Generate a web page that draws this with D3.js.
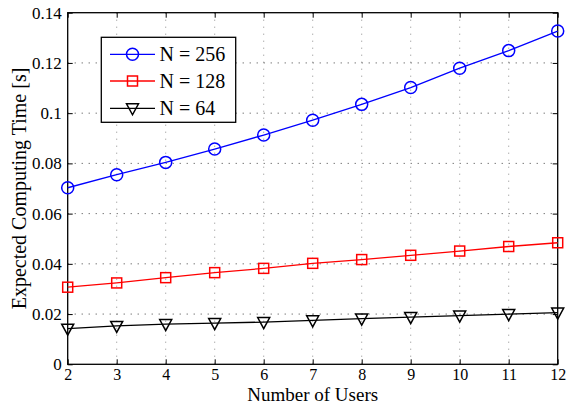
<!DOCTYPE html>
<html>
<head>
<meta charset="utf-8">
<script src="https://cdn.jsdelivr.net/npm/d3@7"></script>
<style>
  html, body { margin: 0; padding: 0; background: #fff; }
  svg { display: block; font-family: "Liberation Serif", "DejaVu Serif", serif; }
  svg text { font-family: "Liberation Serif", "DejaVu Serif", serif; }
</style>
</head>
<body>
<svg id="chart" width="569" height="405"></svg>
<script>
// Number of users on the x axis
const users = [2, 3, 4, 5, 6, 7, 8, 9, 10, 11, 12];
// Expected computing time [s] for each block size N
const timeN256 = [0.0703, 0.0755, 0.0804, 0.0857, 0.0913, 0.0972, 0.1035, 0.1102, 0.1179, 0.1249, 0.1327];
const timeN128 = [0.0307, 0.0324, 0.0345, 0.0365, 0.0382, 0.0402, 0.0417, 0.0434, 0.0451, 0.0469, 0.0484];
const timeN64  = [0.0142, 0.0153, 0.0160, 0.0164, 0.0168, 0.0175, 0.0182, 0.0188, 0.0194, 0.0200, 0.0206];
const seriesLabels = ["N = 256", "N = 128", "N = 64"];
const xTicks = [2, 3, 4, 5, 6, 7, 8, 9, 10, 11, 12];
const yTicks = [0, 0.02, 0.04, 0.06, 0.08, 0.1, 0.12, 0.14];

const series = [
  { label: seriesLabels[0], values: timeN256, color: "#0000ff", marker: "circle" },
  { label: seriesLabels[1], values: timeN128, color: "#ff0000", marker: "square" },
  { label: seriesLabels[2], values: timeN64,  color: "#000000", marker: "triangle" }
];

const svg = d3.select("#chart");
const L = 67.7, R = 557.7, T = 12.7, B = 364.3;
const serif = "'Liberation Serif', 'DejaVu Serif', serif";

const x = d3.scaleLinear().domain([2, 12]).range([L, R]);
const y = d3.scaleLinear().domain([0, 0.14]).range([B, T]);

// dotted grid
const grid = svg.append("g");
grid.selectAll("line.gx").data(xTicks.slice(1, -1)).join("line")
  .attr("x1", d => x(d)).attr("x2", d => x(d)).attr("y1", T).attr("y2", B)
  .attr("stroke", "#000").attr("stroke-opacity", 0.45).attr("stroke-width", 1)
  .attr("stroke-dasharray", "1,6");
grid.selectAll("line.gy").data(yTicks.slice(1, -1)).join("line")
  .attr("y1", d => y(d)).attr("y2", d => y(d)).attr("x1", L).attr("x2", R)
  .attr("stroke", "#000").attr("stroke-opacity", 0.75).attr("stroke-width", 1)
  .attr("stroke-dasharray", "1,6");

// axes with inward ticks on all four sides
const fmtY = d => d === 0 ? "0" : String(+d.toFixed(2));
const axB = svg.append("g").attr("transform", `translate(0,${B})`)
  .call(d3.axisBottom(x).tickValues(xTicks).tickSizeInner(-5).tickSizeOuter(0).tickPadding(5).tickFormat(d3.format("d")));
const axL = svg.append("g").attr("transform", `translate(${L},0)`)
  .call(d3.axisLeft(y).tickValues(yTicks).tickSizeInner(-5).tickSizeOuter(0).tickPadding(6).tickFormat(fmtY));
const axT = svg.append("g").attr("transform", `translate(0,${T})`)
  .call(d3.axisTop(x).tickValues(xTicks).tickSizeInner(-5).tickSizeOuter(0).tickFormat(""));
const axR = svg.append("g").attr("transform", `translate(${R},0)`)
  .call(d3.axisRight(y).tickValues(yTicks).tickSizeInner(-5).tickSizeOuter(0).tickFormat(""));
[axB, axL, axT, axR].forEach(a => {
  a.attr("font-family", serif).attr("font-size", 17);
  a.select(".domain").remove();
  a.selectAll("line").attr("stroke", "#000").attr("stroke-width", 1);
  a.selectAll("text").attr("fill", "#000");
});
axB.attr("font-size", 16);
axB.selectAll("text").attr("dy", "0.66em");

svg.append("rect").attr("x", L).attr("y", T).attr("width", R - L).attr("height", B - T)
  .attr("fill", "none").attr("stroke", "#000").attr("stroke-width", 1.3);

// marker shapes
function drawMarker(g, type, cx, cy, color) {
  if (type === "circle") {
    g.append("circle").attr("cx", cx).attr("cy", cy).attr("r", 6)
      .attr("fill", "none").attr("stroke", color).attr("stroke-width", 1.5);
  } else if (type === "square") {
    g.append("rect").attr("x", cx - 5).attr("y", cy - 5).attr("width", 10).attr("height", 10)
      .attr("fill", "none").attr("stroke", color).attr("stroke-width", 1.5);
  } else {
    g.append("path")
      .attr("d", `M${cx - 6},${cy - 4.5}L${cx + 6},${cy - 4.5}L${cx},${cy + 6.5}Z`)
      .attr("fill", "none").attr("stroke", color).attr("stroke-width", 1.5);
  }
}

const line = d3.line().x(d => x(d[0])).y(d => y(d[1]));
series.forEach(s => {
  const pts = users.map((u, i) => [u, s.values[i]]);
  const g = svg.append("g");
  g.append("path").attr("d", line(pts)).attr("fill", "none")
    .attr("stroke", s.color).attr("stroke-width", 1.3);
  pts.forEach(p => drawMarker(g, s.marker, x(p[0]), y(p[1]), s.color));
});

// legend
const lg = svg.append("g").attr("font-family", serif);
lg.append("rect").attr("x", 101.3).attr("y", 37.3).attr("width", 134.4).attr("height", 85)
  .attr("fill", "#fff").attr("stroke", "#000").attr("stroke-width", 1.3);
const rowY = [54.3, 81, 108.3];
series.forEach((s, i) => {
  lg.append("line").attr("x1", 110).attr("x2", 155).attr("y1", rowY[i]).attr("y2", rowY[i])
    .attr("stroke", s.color).attr("stroke-width", 1.3);
  drawMarker(lg, s.marker, 132.5, rowY[i], s.color);
  lg.append("text").attr("x", 159.5).attr("y", rowY[i]).attr("dy", "0.35em")
    .attr("font-size", 20).attr("fill", "#000").text(s.label);
});

// axis titles
svg.append("text").attr("x", (L + R) / 2).attr("y", 400.5).attr("text-anchor", "middle")
  .attr("font-family", serif).attr("font-size", 19).attr("fill", "#000").text("Number of Users");
svg.append("text").attr("transform", `translate(26,${(T + B) / 2}) rotate(-90)`)
  .attr("text-anchor", "middle").attr("font-family", serif).attr("font-size", 20).attr("fill", "#000")
  .text("Expected Computing Time [s]");
</script>
</body>
</html>
